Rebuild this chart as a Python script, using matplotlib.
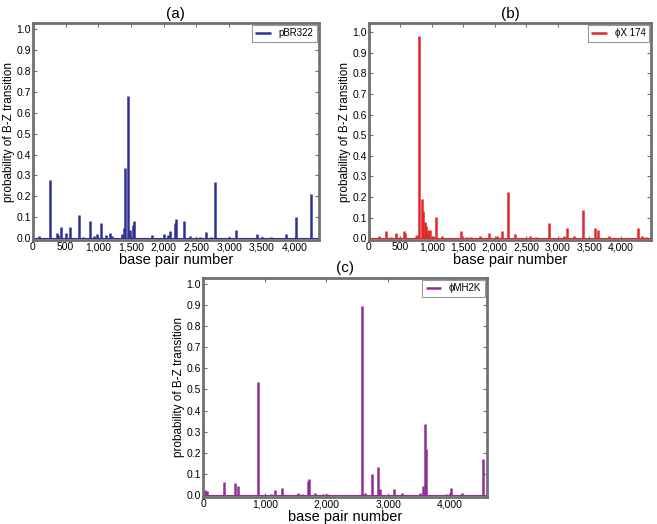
import matplotlib
matplotlib.use("Agg")
import matplotlib.pyplot as plt
from matplotlib.ticker import FuncFormatter

plt.rcParams['font.family'] = ['Liberation Sans', 'DejaVu Sans']

# peak positions (bp) and heights
pbr_pos = [92, 265, 367, 390, 428, 510, 566, 703, 770, 867, 940, 974, 1040, 1111, 1177,
           1215, 1356, 1386, 1412, 1458, 1490, 1530, 1544, 1814, 2003, 2070, 2100, 2175,
           2186, 2313, 2400, 2550, 2650, 2720, 2787, 3000, 3098, 3429, 3500, 3640, 3862,
           4015, 4244]
pbr_val = [0.01, 0.28, 0.025, 0.015, 0.055, 0.025, 0.055, 0.11, 0.005, 0.08, 0.01, 0.018,
           0.07, 0.015, 0.025, 0.008, 0.02, 0.05, 0.335, 0.68, 0.04, 0.065, 0.08, 0.015,
           0.02, 0.015, 0.035, 0.07, 0.09, 0.08, 0.008, 0.005, 0.03, 0.005, 0.27, 0.005,
           0.04, 0.022, 0.005, 0.005, 0.018, 0.1, 0.21]

phix_pos = [159, 270, 345, 429, 500, 556, 572, 742, 768, 795, 837, 858, 890, 911, 943,
            965, 1010, 1060, 1166, 1457, 1563, 1627, 1764, 1907, 2040, 2109, 2204, 2321,
            2559, 2650, 2861, 3100, 3142, 3260, 3407, 3592, 3645, 3815, 4275, 4334, 4400]
phix_val = [0.01, 0.035, 0.005, 0.025, 0.005, 0.035, 0.025, 0.01, 0.015, 0.98, 0.19, 0.13,
            0.08, 0.06, 0.04, 0.04, 0.01, 0.105, 0.01, 0.035, 0.005, 0.005, 0.012, 0.025,
            0.012, 0.035, 0.225, 0.02, 0.01, 0.005, 0.075, 0.01, 0.05, 0.008, 0.135, 0.05,
            0.038, 0.01, 0.048, 0.012, 0.005]

mh_pos = [38, 60, 340, 524, 573, 892, 1100, 1162, 1281, 1546, 1600, 1697, 1714, 1822, 1946,
          2010, 2578, 2622, 2740, 2832, 2876, 3097, 3232, 3514, 3568, 3600, 3616, 3946,
          4000, 4027, 4205, 4533]
mh_val = [0.025, 0.02, 0.06, 0.055, 0.042, 0.535, 0.005, 0.022, 0.035, 0.012, 0.005, 0.065,
          0.075, 0.012, 0.005, 0.005, 0.895, 0.008, 0.1, 0.135, 0.03, 0.03, 0.01, 0.012,
          0.045, 0.335, 0.22, 0.005, 0.012, 0.035, 0.008, 0.17]

panels = [
    ("(a)", "pBR322", pbr_pos, pbr_val, "#2e3192", 4366, [0, 500, 1000, 1500, 2000, 2500, 3000, 3500, 4000],
     [0.050, 0.542, 0.435, 0.414], 1.03),
    ("(b)", "\u03d5X 174", phix_pos, phix_val, "#e3262a", 4480, [0, 500, 1000, 1500, 2000, 2500, 3000, 3500, 4000],
     [0.5616, 0.542, 0.429, 0.414], 1.045),
    ("(c)", "\u03d5MH2K", mh_pos, mh_val, "#912e91", 4600, [0, 1000, 2000, 3000, 4000],
     [0.309, 0.0515, 0.432, 0.418], 1.027),
]

fig = plt.figure(figsize=(6.57, 5.24), dpi=100)

for title, name, pos, val, col, xmax, xt, rect, ytop in panels:
    ax = fig.add_axes(rect)
    ax.vlines(pos, 0, val, color=col, lw=1.8, label=name)
    ax.plot([0, xmax], [0, 0], color=col, lw=0.8)
    ax.set_xlim(0, xmax)
    ax.set_ylim(-0.009, ytop)
    ax.set_xticks(xt)
    ax.set_yticks([i / 10 for i in range(11)])
    ax.xaxis.set_major_formatter(FuncFormatter(lambda v, p: "{:,}".format(int(v))))
    ax.yaxis.set_major_formatter(FuncFormatter(lambda v, p: "{:.1f}".format(v)))
    ax.tick_params(direction="in", top=True, right=True, length=3, width=0.8,
                   color="#707070", labelsize=7.5, pad=1.5)
    for s in ax.spines.values():
        s.set_color("#707070")
        s.set_linewidth(2)
    ax.set_xlabel("base pair number", fontsize=10.5, labelpad=0.5)
    ax.set_ylabel("probability of B-Z transition", fontsize=8.5, labelpad=1)
    ax.set_title(title, fontsize=11, pad=4)
    leg = ax.legend(loc="upper right", fontsize=7, handlelength=1.6, borderpad=0.35,
                    fancybox=False, framealpha=1, borderaxespad=0.2)
    leg.get_frame().set_edgecolor("#999999")
    leg.get_frame().set_linewidth(0.8)

fig.savefig("out.png", dpi=100)
